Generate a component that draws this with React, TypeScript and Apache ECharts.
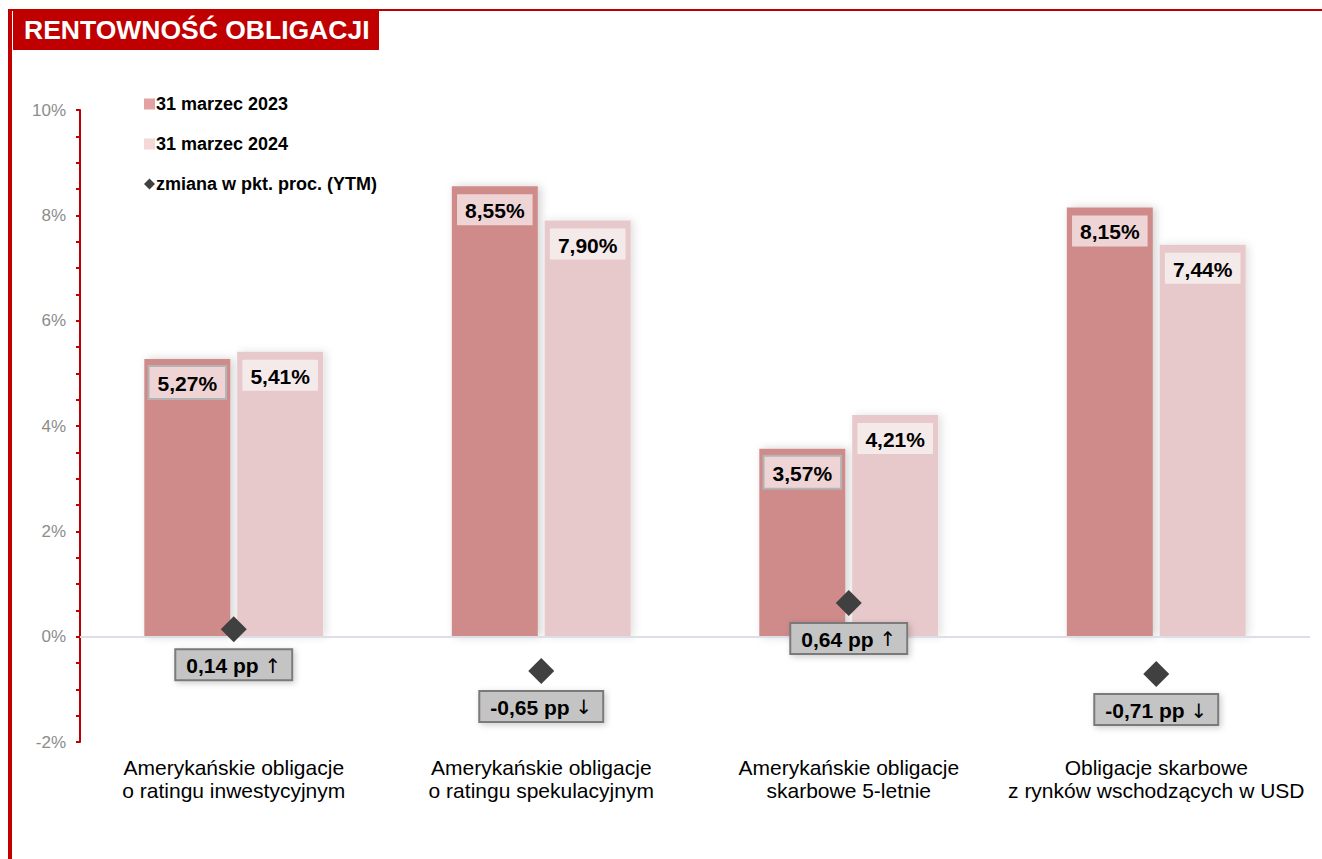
import React, { useEffect, useRef } from "react";
import * as echarts from "echarts";

const categories = [
  "Amerykańskie obligacje\no ratingu inwestycyjnym",
  "Amerykańskie obligacje\no ratingu spekulacyjnym",
  "Amerykańskie obligacje\nskarbowe 5-letnie",
  "Obligacje skarbowe\nz rynków wschodzących w USD",
];
const yield2023 = [5.27, 8.55, 3.57, 8.15];
const yield2024 = [5.41, 7.9, 4.21, 7.44];
const changePP = [0.14, -0.65, 0.64, -0.71];
const bordered2023 = [true, false, true, false];
const seriesNames = ["31 marzec 2023", "31 marzec 2024", "zmiana w pkt. proc. (YTM)"];
const titleText = "RENTOWNOŚĆ OBLIGACJI";

const FONT = "Liberation Sans, Arial, sans-serif";
const fmt = (v: number) => v.toFixed(2).replace(".", ",");

export default function App() {
  const ref = useRef<HTMLDivElement>(null);
  useEffect(() => {
    if (!ref.current) return;
    const chart = echarts.init(ref.current, null, { renderer: "svg" });
    const barLabelBase = {
      show: true,
      position: "insideTop",
      distance: 8,
      fontFamily: FONT,
      fontWeight: "bold",
      fontSize: 21,
      color: "#000",
      padding: [6, 8, 4, 8],
    };
    chart.setOption({
      animation: false,
      textStyle: { fontFamily: FONT },
      grid: { left: 80, right: 12, top: 110, bottom: 117, containLabel: false },
      legend: {
        orient: "vertical",
        left: 139,
        top: 90,
        itemGap: 22,
        itemWidth: 11,
        itemHeight: 11,
        selectedMode: false,
        textStyle: { fontFamily: FONT, fontWeight: "bold", fontSize: 18, color: "#000", padding: [0, 0, 0, -4] },
        data: [
          { name: seriesNames[0], icon: "rect", itemStyle: { color: "#e3a1a1" } },
          { name: seriesNames[1], icon: "rect", itemStyle: { color: "#f4d7d7" } },
          { name: seriesNames[2], icon: "diamond", itemStyle: { color: "#404040" } },
        ],
      },
      xAxis: {
        type: "category",
        data: categories,
        position: "bottom",
        axisLine: { show: false, onZero: false },
        axisTick: { show: false },
        axisLabel: {
          fontFamily: FONT,
          fontSize: 21,
          color: "#000",
          lineHeight: 23,
          margin: 14,
          interval: 0,
        },
      },
      yAxis: {
        type: "value",
        min: -2,
        max: 10,
        interval: 2,
        axisLine: { show: true, lineStyle: { color: "#c00000", width: 2 } },
        axisTick: { show: true, length: 4, lineStyle: { color: "#c00000", width: 2 } },
        minorTick: { show: true, splitNumber: 4, length: 4, lineStyle: { color: "#c00000", width: 2 } },
        splitLine: { show: false },
        axisLabel: {
          formatter: "{value}%",
          fontFamily: FONT,
          fontSize: 17,
          color: "#8c8c8c",
          margin: 14,
        },
      },
      series: [
        {
          name: seriesNames[0],
          type: "bar",
          barWidth: 86,
          barGap: "8%",
          data: yield2023.map((v, i) => ({
            value: v,
            label: bordered2023[i]
              ? { borderColor: "#b3b3b3", borderWidth: 2 }
              : {},
          })),
          itemStyle: {
            color: "#cf8a8a",
            shadowBlur: 8,
            shadowColor: "rgba(0,0,0,0.18)",
            shadowOffsetX: 3,
            shadowOffsetY: 0,
          },
          label: {
            ...barLabelBase,
            backgroundColor: "#efd4d6",
            formatter: (p: any) => fmt(p.value) + "%",
          },
          markLine: {
            silent: true,
            symbol: "none",
            label: { show: false },
            lineStyle: { color: "#dcdfe8", width: 2, type: "solid" },
            data: [{ yAxis: 0 }],
          },
          z: 2,
        },
        {
          name: seriesNames[1],
          type: "bar",
          barWidth: 86,
          data: yield2024,
          itemStyle: {
            color: "#e8c9cb",
            shadowBlur: 8,
            shadowColor: "rgba(0,0,0,0.12)",
            shadowOffsetX: 3,
            shadowOffsetY: 0,
          },
          label: {
            ...barLabelBase,
            backgroundColor: "#f5eaea",
            formatter: (p: any) => fmt(p.value) + "%",
          },
          z: 2,
        },
        {
          name: seriesNames[2],
          type: "scatter",
          symbol: "diamond",
          symbolSize: 26,
          data: changePP,
          itemStyle: { color: "#404040", opacity: 1 },
          label: {
            show: true,
            position: "bottom",
            distance: 8,
            fontFamily: FONT,
            fontWeight: "bold",
            fontSize: 21,
            color: "#000",
            backgroundColor: "#c4c4c4",
            borderColor: "#7a7a7a",
            borderWidth: 2,
            padding: [5, 10, 3, 10],
            shadowBlur: 6,
            shadowColor: "rgba(0,0,0,0.2)",
            shadowOffsetX: 2,
            shadowOffsetY: 2,
            rich: {
              arr: {
                fontFamily: "DejaVu Sans",
                fontWeight: "normal",
                fontSize: 20,
                color: "#000",
              },
            },
            formatter: (p: any) =>
              fmt(p.value) + " pp {arr|" + (p.value >= 0 ? "↑" : "↓") + "}",
          },
          z: 5,
        },
      ],
      graphic: [
        { type: "rect", left: 8, top: 9, shape: { width: 1314, height: 2 }, style: { fill: "#c00000" } },
        { type: "rect", left: 8, top: 9, shape: { width: 4, height: 850 }, style: { fill: "#c00000" } },
        { type: "rect", left: 13, top: 11, shape: { width: 366, height: 39 }, style: { fill: "#c00000" } },
        {
          type: "text",
          left: 24,
          top: 16,
          style: {
            text: titleText,
            fill: "#fff",
            font: "bold 26.5px " + FONT,
          },
        },
      ],
    });
    return () => chart.dispose();
  }, []);
  return (
    <div
      ref={ref}
      style={{ position: "fixed", left: 0, top: 0, width: 1322, height: 859, background: "#fff" }}
    />
  );
}
